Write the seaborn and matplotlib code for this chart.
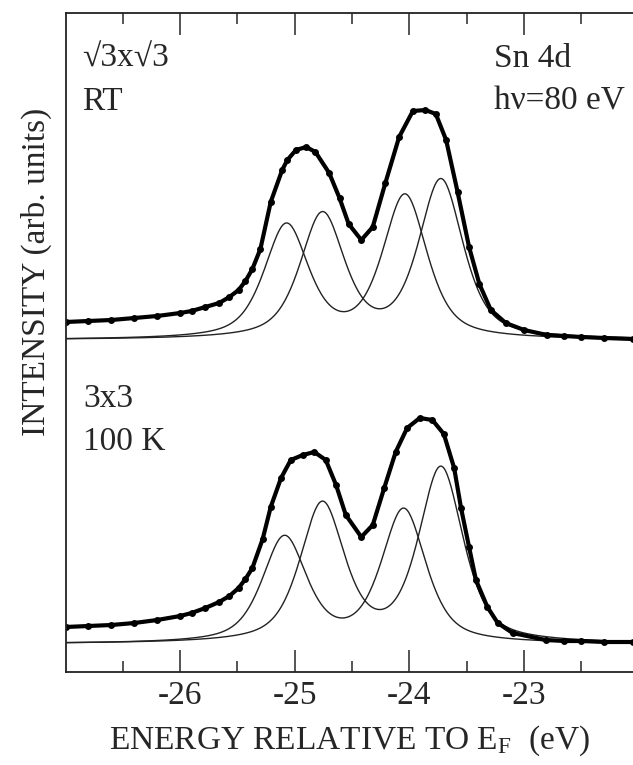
import numpy as np
import pandas as pd
import matplotlib
matplotlib.use("Agg")
import matplotlib.pyplot as plt
import seaborn as sns

# ---------------- data ----------------
# measured spectra (energy in eV, intensity in arb. units above each panel's baseline)
ENERGY_RT = [-27.00, -26.80, -26.60, -26.40, -26.20, -26.00, -25.90, -25.78, -25.66,
             -25.57, -25.49, -25.43, -25.37, -25.30, -25.21,
             -25.11, -25.065, -24.99, -24.90, -24.82, -24.70, -24.61, -24.53, -24.42,
             -24.32, -24.21, -24.09, -23.97, -23.86, -23.77, -23.68, -23.58, -23.48,
             -23.39, -23.29, -23.16, -23.00, -22.80, -22.65, -22.50, -22.30, -22.05]
INT_RT = [18, 19, 20, 22, 24, 27, 29, 33, 37,
          43, 50, 59, 71, 91, 138,
          170, 180, 190, 193, 188, 167, 142, 116, 100,
          113, 157, 203, 229, 230, 226, 200, 148, 93,
          56, 30, 17, 10, 5, 4, 3, 2, 1]

ENERGY_100K = [-27.00, -26.80, -26.60, -26.40, -26.20, -26.00, -25.90, -25.78, -25.66,
               -25.57, -25.49, -25.43, -25.37, -25.28, -25.21,
               -25.12, -25.035, -24.93, -24.83, -24.73, -24.64, -24.555, -24.42, -24.32,
               -24.22, -24.12, -24.02, -23.91, -23.80, -23.70, -23.61, -23.55, -23.48,
               -23.42, -23.32, -23.23, -23.10, -22.81, -22.65, -22.50, -22.30, -22.05]
INT_100K = [17, 18, 19, 21, 24, 28, 31, 36, 42,
            48, 56, 65, 76, 105, 137,
            166, 184, 189, 192, 184, 159, 129, 107, 119,
            156, 192, 216, 226, 224, 210, 176, 136, 97,
            64, 37, 21, 11, 4, 3, 3, 2, 2]

# fitted spin-orbit doublet components (two per panel): peak energies and heights
COMP_LABELS = ["A", "B"]
RT_CENTERS = [[-25.073, -24.039], [-24.759, -23.725]]
RT_HEIGHTS = [[113, 143], [124, 158]]
K100_CENTERS = [[-25.09, -24.05], [-24.76, -23.725]]
K100_HEIGHTS = [[105, 133], [138, 174]]
FWHM = 0.46          # eV
LORENTZ_FRACTION = 0.6

PANEL_BASELINES = {"RT": 332, "100K": 28}

XTICKS = [-26, -25, -24, -23]
XTICK_LABELS = ["-26", "-25", "-24", "-23"]
XMINOR = [-26.5, -25.5, -24.5, -23.5, -22.5]

# ---------------- style ----------------
sns.set_style("ticks")
plt.rcParams["font.family"] = ["Liberation Serif", "DejaVu Serif"]
plt.rcParams["mathtext.fontset"] = "custom"
plt.rcParams["mathtext.rm"] = "Liberation Serif"
plt.rcParams["mathtext.it"] = "Liberation Serif:italic"
plt.rcParams["axes.unicode_minus"] = False

FS = 24

fig = plt.figure(figsize=(6.33, 7.65), dpi=100)
ax = fig.add_axes([65.5 / 633, 93 / 765, 1 - 65.5 / 633, 659 / 765])


def pvoigt(x, c, h):
    d = (x - c) / FWHM
    lor = 1.0 / (1.0 + 4.0 * d ** 2)
    gau = np.exp(-4.0 * np.log(2.0) * d ** 2)
    return h * (LORENTZ_FRACTION * lor + (1 - LORENTZ_FRACTION) * gau)


grid = np.linspace(-27.0, -22.05, 600)

# fitted components
for panel, centers, heights in [("RT", RT_CENTERS, RT_HEIGHTS),
                                ("100K", K100_CENTERS, K100_HEIGHTS)]:
    base = PANEL_BASELINES[panel]
    for lab, cs, hs in zip(COMP_LABELS, centers, heights):
        y = base + sum(pvoigt(grid, c, h) for c, h in zip(cs, hs))
        sns.lineplot(x=grid, y=y, color="#222222", linewidth=1.0, ax=ax,
                     estimator=None, sort=False)

# measured data
for panel, en, it in [("RT", ENERGY_RT, INT_RT), ("100K", ENERGY_100K, INT_100K)]:
    df = pd.DataFrame({"energy": en, "intensity": np.array(it) + PANEL_BASELINES[panel]})
    sns.lineplot(data=df, x="energy", y="intensity", color="black", linewidth=3.0,
                 marker="o", markersize=5, markeredgewidth=0, ax=ax,
                 estimator=None, sort=False)

ax.set_xlim(-27.0, -22.05)
ax.set_ylim(0, 659)

ax.set_xticks(XTICKS)
ax.set_xticklabels(XTICK_LABELS, fontsize=FS)
ax.set_xticks(XMINOR, minor=True)
ax.set_yticks([])
ax.tick_params(axis="x", which="major", direction="in", length=15.8, width=1.1,
               top=True, bottom=True, pad=6)
ax.tick_params(axis="x", which="minor", direction="in", length=7.9, width=1.1,
               top=True, bottom=True)
for s in ["left", "bottom", "top"]:
    ax.spines[s].set_linewidth(1.3)
    ax.spines[s].set_color("#222222")
ax.spines["right"].set_visible(False)

ax.set_xlabel(r"ENERGY RELATIVE TO E$_{\mathrm{F}}$  (eV)", fontsize=FS, labelpad=9)
ax.set_ylabel("")
fig.text(36 / 633, 1 - 272 / 765, "INTENSITY (arb. units)", rotation=90,
         fontsize=FS, ha="center", va="center")

# annotations
def ftext(px, py, s):
    fig.text(px / 633, 1 - py / 765, s, fontsize=FS, ha="left", va="baseline")

ftext(82, 67, "√3x√3")
ftext(82, 110, "RT")
ftext(494, 67, "Sn 4d")
ftext(494, 110, "hν=80 eV")
ftext(83, 407, "3x3")
ftext(83, 450, "100 K")

fig.savefig("out.png", dpi=100)
